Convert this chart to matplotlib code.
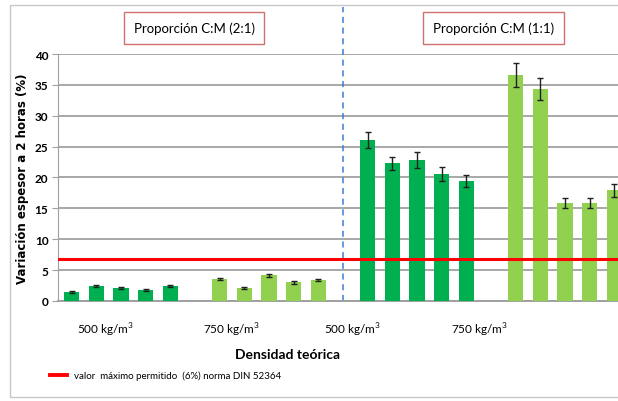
import matplotlib.pyplot as plt
import matplotlib.patches as mpatches
import numpy as np

# datos
pos_g1 = [0, 1, 2, 3, 4]
pos_g2 = [6, 7, 8, 9, 10]
pos_g3 = [12, 13, 14, 15, 16]
pos_g4 = [18, 19, 20, 21, 22]

val_g1 = [1.5, 2.35, 2.05, 1.8, 2.4]
err_g1 = [0.15, 0.15, 0.15, 0.15, 0.15]
val_g2 = [3.55, 2.1, 4.15, 3.0, 3.35]
err_g2 = [0.2, 0.12, 0.2, 0.2, 0.2]
val_g3 = [26.1, 22.3, 22.8, 20.5, 19.4]
err_g3 = [1.35, 1.1, 1.25, 1.15, 1.0]
val_g4 = [36.6, 34.3, 15.9, 15.9, 17.9]
err_g4 = [1.9, 1.8, 0.8, 0.8, 1.0]

etiquetas = ["500 kg/m$^3$", "750 kg/m$^3$", "500 kg/m$^3$", "750 kg/m$^3$"]
pos_etiquetas = [1.38, 6.5, 11.4, 16.55]
limite = 6.8
separador = 11

verde_osc = '#00B050'
verde_cla = '#92D050'
narrow = ['Lato', 'DejaVu Sans']
plt.rcParams['mathtext.fontset'] = 'custom'
plt.rcParams['mathtext.rm'] = 'Lato'

fig = plt.figure(figsize=(6.18, 4.02), dpi=100)
ax = fig.add_axes([0.094, 0.249, 0.906, 0.614])

# recuadro exterior
fig.patches.append(mpatches.Rectangle((0.016, 0.01), 1.0, 0.975, transform=fig.transFigure,
                                      fill=False, edgecolor='#c8c8c8', linewidth=1))

kw = dict(width=0.62, capsize=2.5, error_kw=dict(elinewidth=1, ecolor='#202020', capthick=1), zorder=3)
ax.bar(pos_g1, val_g1, yerr=err_g1, color=verde_osc, **kw)
ax.bar(pos_g2, val_g2, yerr=err_g2, color=verde_cla, **kw)
ax.bar(pos_g3, val_g3, yerr=err_g3, color=verde_osc, **kw)
ax.bar(pos_g4, val_g4, yerr=err_g4, color=verde_cla, **kw)

ax.axhline(limite, color='#ff0000', linewidth=2.2, zorder=4)
ax.axvline(separador, ymin=0, ymax=1.19, color='#3c7dd9', linestyle=(0, (4, 3)),
           linewidth=1.1, clip_on=False, zorder=2)

ax.set_xlim(-0.55, 22.15)
ax.set_ylim(0, 40)
ax.set_yticks(np.arange(0, 41, 5))
ax.yaxis.grid(True, color='#a8a8a8', linewidth=1.4, zorder=0)
ax.set_axisbelow(True)
ax.set_xticks([])
for s in ['top', 'right']:
    ax.spines[s].set_visible(False)
ax.spines['left'].set_color('#a0a0a0')
ax.spines['bottom'].set_color('#a0a0a0')
ax.spines['bottom'].set_linewidth(1.4)
ax.tick_params(axis='y', length=4, color='#a0a0a0', labelsize=8.5, pad=3)
for t in ax.get_yticklabels():
    t.set_fontweight('bold')
    t.set_family(narrow)

ax.set_ylabel('Variación espesor a 2 horas (%)', fontsize=8.5, fontweight='bold', labelpad=4)

for x, txt in zip(pos_etiquetas, etiquetas):
    ax.text(x, -4.6, txt, ha='center', va='center', fontsize=8.5, family=narrow)
fig.text(0.466, 0.118, 'Densidad teórica', ha='center', va='center', fontsize=10,
         fontweight='bold', family=narrow)

# leyenda
fig.add_artist(plt.Line2D([0.081, 0.108], [0.065, 0.065], color='#ff0000', linewidth=2.8))
fig.text(0.12, 0.065, 'valor  máximo permitido  (6%) norma DIN 52364', ha='left', va='center',
         fontsize=7, family=narrow)

# cuadros de texto
for xc, txt in [(0.314, 'Proporción C:M (2:1)'), (0.798, 'Proporción C:M (1:1)')]:
    fig.text(xc, 0.928, txt, ha='center', va='center', fontsize=9.5, family=narrow,
             bbox=dict(boxstyle='square,pad=0.75', facecolor='white', edgecolor='#d07070', linewidth=1))

fig.savefig('out.png', dpi=100)
